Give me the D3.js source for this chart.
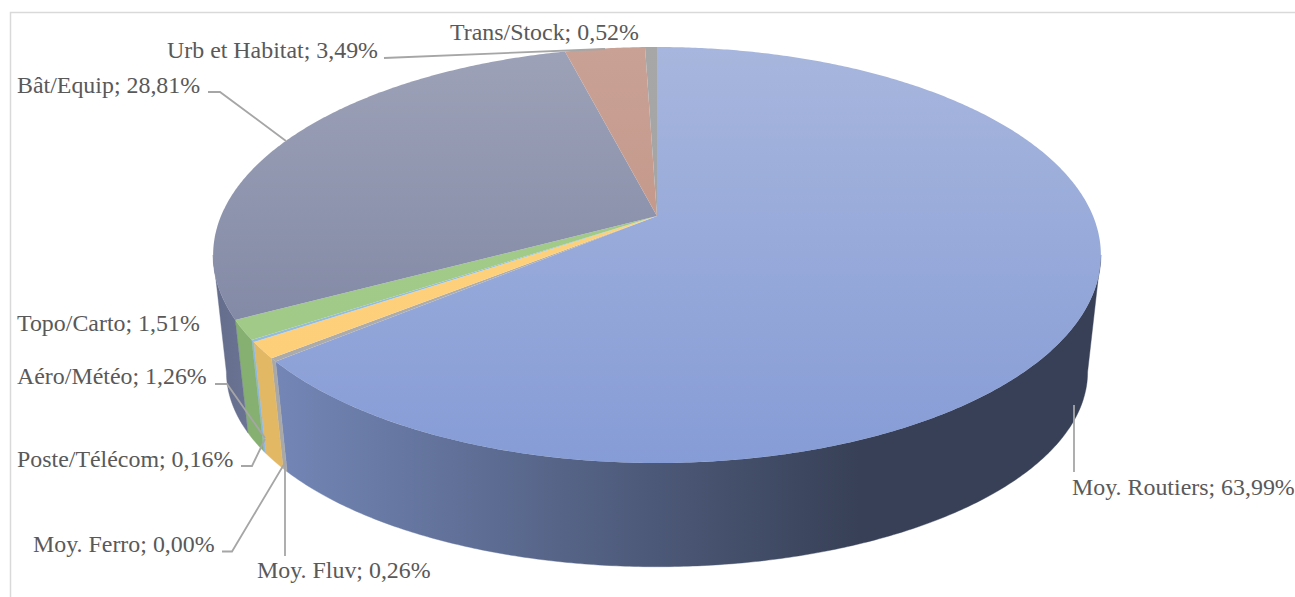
<!DOCTYPE html>
<html>
<head>
<meta charset="utf-8">
<script src="https://cdn.jsdelivr.net/npm/d3@7"></script>
<style>html,body{margin:0;padding:0;background:#fff;overflow:hidden}</style>
</head>
<body>
<script>
// ---- data, in clockwise order from 12 o'clock ----
const categories = ["Moy. Routiers","Moy. Ferro","Moy. Fluv","Aéro/Météo","Poste/Télécom","Topo/Carto","Bât/Equip","Urb et Habitat","Trans/Stock"];
const shares = [63.99,0.00,0.26,1.26,0.16,1.51,28.81,3.49,0.52];

// ---- styles ----
const topFrom  = ["#a7b6dd","#e8a080","#b4b4b4","#fdd27e","#9dc3e6","#a3cb8b","#9da2b8","#c9a195","#a7a7a7"];
const topTo    = ["#869cd6","#e09070","#a8a8a8","#fdce78","#8fb8e0","#a0c986","#767e9c","#bf8f80","#a0a0a0"];
const wallFrom = ["#7386b6","#c07050","#a8a8a8","#e2b865","#8fb8e0","#86b072","#646d8c","#aa8070","#909090"];
const wallTo   = ["#374056","#a06040","#a0a0a0","#d8ae5c","#86acd0","#7fa96c","#6f7898","#a07868","#888888"];
const leaderColor = "#a6a6a6", textColor = "#595959", frameColor = "#d9d9d9";

// ---- layout of labels and leader lines ----
const labelX = [1072,33,257,17,17,17,17,167,450];
const labelY = [495,552,578,384,467,331,93,58,40];
const leaders = [
  [[1074,472],[1074,405]],
  [[222,551.5],[232,551.5],[286,461]],
  [[285,556],[285,461]],
  [[215,384],[227,384],[265,438]],
  [[241,466],[252,466],[265,439]],
  [[208,92],[220,92],[286,141]],
  [[384,58],[605,49]]
];

// ---- perspective disc projection ----
const apex=[657,216];
function disc(x0,y0,a,b,k){
  return t=>{ const u=Math.sin(t), v=-Math.cos(t), w=1+k*v;
    return [x0+a*u/w, y0+b*v/w]; };
}
const topRim = disc(apex[0],apex[1],436,200.7,-0.1875);
const botRim = disc(657,335.5,423,188,-0.187);
const rad = Math.PI/180;
const sample = (a0,a1)=>{ const n=Math.max(2,Math.ceil((a1-a0)/(0.5*rad)));
  return d3.range(n+1).map(i=>a0+(a1-a0)*i/n); };

const W=1295,H=597;
const svg=d3.select("body").append("svg").attr("width",W).attr("height",H).style("display","block");
const defs=svg.append("defs");
const line=d3.line();

// frame
svg.append("path").attr("d",line([[10.5,H],[10.5,12.5],[W,12.5]])).attr("fill","none").attr("stroke",frameColor).attr("stroke-width",1.5);

const arcs=d3.pie().sort(null).value(d=>d)(shares);

categories.forEach((c,i)=>{
  const g1=defs.append("linearGradient").attr("id","top"+i).attr("gradientUnits","userSpaceOnUse")
    .attr("x1",0).attr("x2",0).attr("y1",47).attr("y2",463);
  g1.append("stop").attr("offset",0).attr("stop-color",topFrom[i]);
  g1.append("stop").attr("offset",1).attr("stop-color",topTo[i]);
  const g2=defs.append("linearGradient").attr("id","wall"+i).attr("gradientUnits","userSpaceOnUse")
    .attr("y1",0).attr("y2",0).attr("x1",i===6?213:275).attr("x2",i===6?275:860);
  g2.append("stop").attr("offset",0).attr("stop-color",wallFrom[i]);
  g2.append("stop").attr("offset",1).attr("stop-color",wallTo[i]);
});

// walls: from one silhouette edge to the other, through the front
const wallMin=100.8*rad, wallMax=259.2*rad;
svg.append("g").selectAll("path").data(arcs).join("path")
  .filter(d=>d.value>0 && d.endAngle>wallMin && d.startAngle<wallMax)
  .attr("fill",d=>`url(#wall${d.index})`)
  .attr("stroke",d=>`url(#wall${d.index})`).attr("stroke-width",0.4)
  .attr("d",d=>{
    const ts=sample(Math.max(d.startAngle,wallMin),Math.min(d.endAngle,wallMax));
    return line(ts.map(topRim).concat(ts.slice().reverse().map(botRim)))+"Z";
  });

// top faces
svg.append("g").selectAll("path").data(arcs).join("path")
  .filter(d=>d.value>0)
  .attr("fill",d=>`url(#top${d.index})`)
  .attr("d",d=>line([apex].concat(sample(d.startAngle,d.endAngle).map(topRim)))+"Z");

// leader lines
svg.append("g").selectAll("path").data(leaders).join("path")
  .attr("d",d=>line(d)).attr("fill","none").attr("stroke",leaderColor).attr("stroke-width",1.8);

// labels
const fmt=v=>v.toFixed(2).replace(".",",")+"%";
svg.append("g").selectAll("text").data(categories).join("text")
  .attr("x",(d,i)=>labelX[i]).attr("y",(d,i)=>labelY[i])
  .attr("font-family","'Liberation Serif',serif").attr("font-size",23.9).attr("fill",textColor)
  .text((d,i)=>`${d}; ${fmt(shares[i])}`);
</script>
</body>
</html>
